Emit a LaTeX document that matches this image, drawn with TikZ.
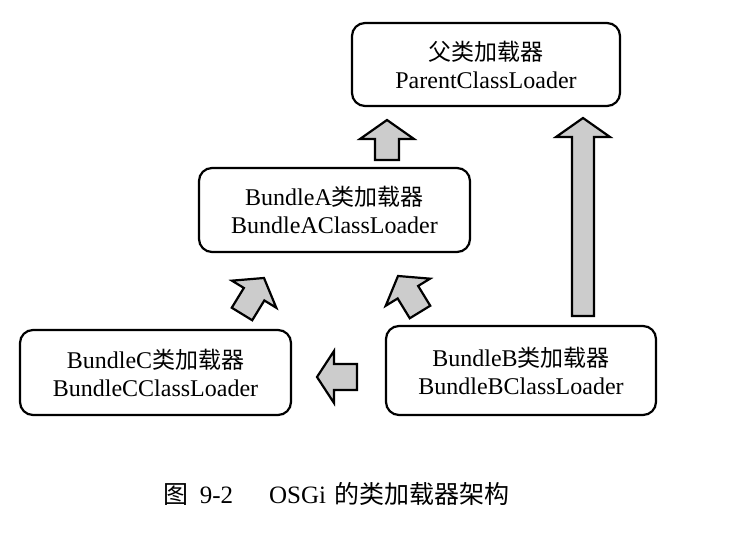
\documentclass[tikz,border=0pt]{standalone}
\usepackage{fontspec}
\setmainfont{Liberation Serif}
\newfontfamily\cjk{Noto Sans CJK SC}
\usetikzlibrary{calc}
\tikzset{
  loader/.style={draw, line width=2.2pt, rounded corners=13pt, align=center,
    font=\fontsize{24}{28}\selectfont, inner sep=0pt},
  blk/.style={draw, line width=2.2pt, fill=black!20, line join=miter},
}
% tail, tip, body half width, head half width, head length
\newcommand\blockarrow[5]{%
  \coordinate (ba-m) at ($(#2)!#5!(#1)$);
  \filldraw[blk] ($(#1)!#3!90:(#2)$) -- ($(ba-m)!#3!90:(#2)$) -- ($(ba-m)!#4!90:(#2)$)
    -- (#2) -- ($(ba-m)!#4!-90:(#2)$) -- ($(ba-m)!#3!-90:(#2)$) -- ($(#1)!#3!-90:(#2)$) -- cycle;
}
\begin{document}
\begin{tikzpicture}[x=1pt,y=-1pt]
\useasboundingbox[fill=white] (0,0) rectangle (748,545);

\node[loader, minimum width=268pt, minimum height=83pt] (parent) at (486,64.5)
  {{\cjk\fontsize{23}{28}\selectfont 父类加载器}\\ParentClassLoader};
\node[loader, minimum width=271pt, minimum height=84pt] (bA) at (334.5,210)
  {BundleA{\cjk\fontsize{23}{28}\selectfont 类加载器}\\BundleAClassLoader};
\node[loader, minimum width=271pt, minimum height=85pt] (bC) at (155.5,372.5)
  {BundleC{\cjk\fontsize{23}{28}\selectfont 类加载器}\\BundleCClassLoader};
\node[loader, minimum width=270pt, minimum height=89pt] (bB) at (521,370.5)
  {BundleB{\cjk\fontsize{23}{28}\selectfont 类加载器}\\BundleBClassLoader};

\node[font=\fontsize{25}{28}\selectfont, inner sep=0pt] (cap) at (336.5,494)
  {{\cjk 图}\hspace{11pt}9-2\hspace{36pt}OSGi\hspace{8pt}{\cjk 的类加载器架构}};

% arrow end points
\coordinate (a1t) at (387,160);  \coordinate (a1h) at (387,120);
\coordinate (a2t) at (583,316);  \coordinate (a2h) at (583,118);
\coordinate (a3t) at (242,314);  \coordinate (a3h) at (264,278);
\coordinate (a4t) at (420,312);  \coordinate (a4h) at (398,276);
\coordinate (a5t) at (357,377);  \coordinate (a5h) at (317,377);

\blockarrow{a1t}{a1h}{12pt}{27pt}{19pt}
\blockarrow{a2t}{a2h}{11pt}{27pt}{19pt}
\blockarrow{a3t}{a3h}{12pt}{26pt}{19pt}
\blockarrow{a4t}{a4h}{12pt}{26pt}{19pt}
\blockarrow{a5t}{a5h}{13pt}{26pt}{17pt}
\end{tikzpicture}
\end{document}
